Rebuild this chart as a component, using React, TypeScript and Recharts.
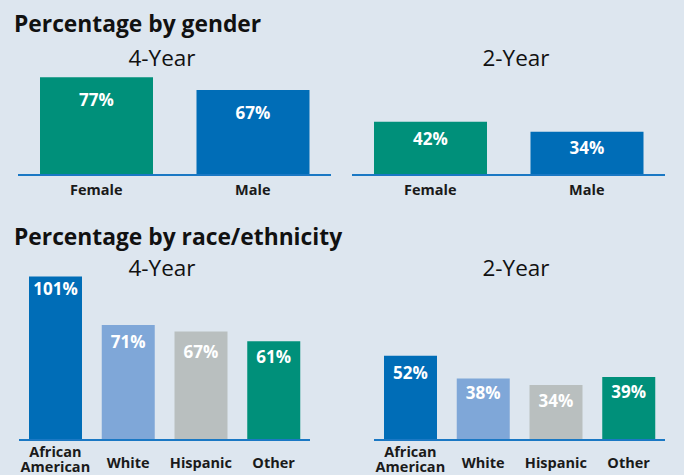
import { BarChart, Bar, XAxis, YAxis, Cell, LabelList } from 'recharts'

// 性别
const genderCats = ['Female', 'Male']
const gender4Year = [77, 67]
const gender2Year = [42, 34]
const genderColors = ['#00907a', '#006db7']

// 种族
const raceCats = ['African American', 'White', 'Hispanic', 'Other']
const race4Year = [101, 71, 67, 61]
const race2Year = [52, 38, 34, 39]
const raceColors = ['#006db7', '#7fa7d8', '#b9bfbf', '#00907a']

const BG = '#dde6ef'
const AXIS = '#1a78c4'
const FONT = '"Open Sans", "DejaVu Sans", sans-serif'
const AXIS_H = 35

interface PanelProps {
  cats: string[]
  values: number[]
  colors: string[]
  left: number
  top: number
  width: number
  height: number
  marginLeft: number
  marginRight: number
  marginTop: number
  domainMax: number
  barSize: number
  labelOffsets: number[]
  singleDy: number
  multiDy: number
}

function Panel(p: PanelProps) {
  const data = p.cats.map((c, i) => ({ name: c, value: p.values[i] }))
  const baseline = p.height - AXIS_H

  const renderTick = (props: any) => {
    const { x, payload } = props
    const label: string = payload.value
    const lines = label.includes(' ') ? label.split(' ') : [label]
    const dy = lines.length > 1 ? p.multiDy : p.singleDy
    return (
      <g>
        {lines.map((l, i) => (
          <text
            key={l}
            x={x}
            y={baseline + dy + i * 15}
            textAnchor="middle"
            fill="#1a1a1a"
            fontSize={14.5}
            fontWeight={700}
            fontFamily={FONT}
          >
            {l}
          </text>
        ))}
      </g>
    )
  }

  // 柱内白色百分比
  const renderLabel = (props: any) => {
    const { x, y, width, value, index } = props
    return (
      <text
        x={x + width / 2}
        y={y + p.labelOffsets[index] + 12}
        textAnchor="middle"
        fill="#ffffff"
        fontSize={17}
        fontWeight={700}
        fontFamily={FONT}
      >
        {`${value}%`}
      </text>
    )
  }

  return (
    <div style={{ position: 'absolute', left: p.left, top: p.top }}>
      <BarChart
        width={p.width}
        height={p.height}
        data={data}
        margin={{ top: p.marginTop, right: p.marginRight, bottom: 0, left: p.marginLeft }}
      >
        <XAxis
          dataKey="name"
          height={AXIS_H}
          axisLine={{ stroke: AXIS, strokeWidth: 2 }}
          tickLine={false}
          interval={0}
          tick={renderTick}
        />
        <YAxis hide domain={[0, p.domainMax]} />
        <Bar dataKey="value" barSize={p.barSize} isAnimationActive={false}>
          {data.map((d, i) => (
            <Cell key={d.name} fill={p.colors[i]} />
          ))}
          <LabelList dataKey="value" content={renderLabel} />
        </Bar>
      </BarChart>
    </div>
  )
}

const heading: React.CSSProperties = {
  position: 'absolute',
  fontFamily: FONT,
  fontWeight: 700,
  fontSize: 22.8,
  color: '#111',
  whiteSpace: 'nowrap',
  lineHeight: 1,
}

const sub: React.CSSProperties = {
  position: 'absolute',
  fontFamily: FONT,
  fontWeight: 400,
  fontSize: 22.5,
  color: '#111',
  whiteSpace: 'nowrap',
  lineHeight: 1,
  width: 120,
  textAlign: 'center',
}

export default function App() {
  return (
    <div
      style={{
        position: 'absolute',
        left: 0,
        top: 0,
        width: 684,
        height: 475,
        background: BG,
        overflow: 'hidden',
      }}
    >
      <Panel
        cats={genderCats}
        values={gender4Year}
        colors={genderColors}
        left={0}
        top={0}
        width={342}
        height={210}
        marginLeft={18}
        marginRight={11}
        marginTop={48}
        domainMax={100}
        barSize={113}
        labelOffsets={[17, 17]}
        singleDy={20}
        multiDy={17}
      />
      <Panel
        cats={genderCats}
        values={gender2Year}
        colors={genderColors}
        left={342}
        top={0}
        width={342}
        height={210}
        marginLeft={10}
        marginRight={19}
        marginTop={48}
        domainMax={100}
        barSize={113}
        labelOffsets={[11, 10]}
        singleDy={20}
        multiDy={17}
      />
      <Panel
        cats={raceCats}
        values={race4Year}
        colors={raceColors}
        left={0}
        top={210}
        width={342}
        height={265}
        marginLeft={19}
        marginRight={32}
        marginTop={52}
        domainMax={110}
        barSize={53}
        labelOffsets={[6, 11, 14, 10]}
        singleDy={28}
        multiDy={17}
      />
      <Panel
        cats={raceCats}
        values={race2Year}
        colors={raceColors}
        left={342}
        top={210}
        width={342}
        height={265}
        marginLeft={32}
        marginRight={19}
        marginTop={52}
        domainMax={110}
        barSize={53}
        labelOffsets={[11, 8, 10, 9]}
        singleDy={28}
        multiDy={17}
      />

      <div style={{ ...heading, left: 14, top: 13 }}>Percentage by gender</div>
      <div style={{ ...sub, left: 102, top: 47 }}>4-Year</div>
      <div style={{ ...sub, left: 456, top: 47 }}>2-Year</div>

      <div style={{ ...heading, left: 14, top: 226 }}>Percentage by race/ethnicity</div>
      <div style={{ ...sub, left: 102, top: 257 }}>4-Year</div>
      <div style={{ ...sub, left: 456, top: 257 }}>2-Year</div>
    </div>
  )
}
